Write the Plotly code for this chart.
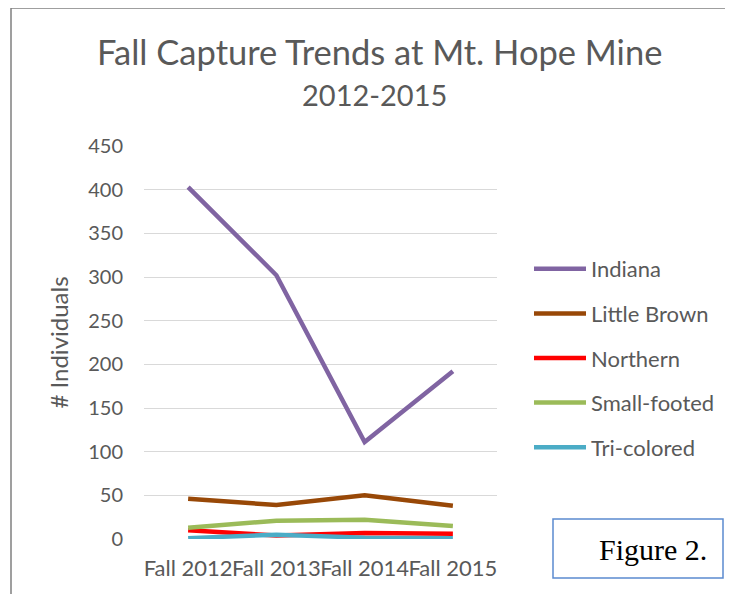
import plotly.graph_objects as go

categories = ["Fall 2012", "Fall 2013", "Fall 2014", "Fall 2015"]
series_names = ["Indiana", "Little Brown", "Northern", "Small-footed", "Tri-colored"]
indiana = [403, 302, 111, 192]
little_brown = [46, 39, 50, 38]
northern = [10, 4, 7, 6]
small_footed = [13, 21, 22, 15]
tri_colored = [1, 5, 1.5, 1]
colors = ["#8064A2", "#984807", "#FF0000", "#9BBB59", "#4BACC6"]
y_ticks = [0, 50, 100, 150, 200, 250, 300, 350, 400, 450]

W, H = 733, 594
OFF = 8  # page body margin
L, R, T, B = 144 - OFF, 497 - OFF, 146 - OFF, 539 - OFF

FONT = "Lato"
GRAY = "#595959"


def px_x(px):
    return (px - OFF - L) / (R - L)


def px_y(py):
    return (B - (py - OFF)) / (B - T)


fig = go.Figure()
for name, vals, col in zip(series_names,
                           [indiana, little_brown, northern, small_footed, tri_colored],
                           colors):
    fig.add_trace(go.Scatter(x=categories, y=vals, name=name, mode="lines",
                             line=dict(color=col, width=4.5), legendgroup=name))

fig.update_layout(
    width=W, height=H,
    margin=dict(l=L, r=W - R, t=T, b=H - B, pad=0, autoexpand=False),
    paper_bgcolor="white", plot_bgcolor="white",
    font=dict(family=FONT, color=GRAY),
    showlegend=True,
    legend=dict(x=px_x(529), xanchor="left", y=px_y(248), yanchor="top",
                font=dict(size=22, color=GRAY), tracegroupgap=13,
                itemwidth=52, bgcolor="rgba(0,0,0,0)"),
    xaxis=dict(type="category", range=[-0.5, 3.5], showgrid=False, zeroline=False,
               showline=False, ticks="", tickangle=0, automargin=False,
               ticklabelstandoff=14, tickfont=dict(size=22, color=GRAY)),
    yaxis=dict(range=[0, 450], tickvals=y_ticks, showgrid=True, gridcolor="#D9D9D9",
               gridwidth=1.2, zeroline=False, showline=False, ticks="", automargin=False,
               tickfont=dict(size=20, color=GRAY), ticklabelstandoff=20,
               title=dict(text="# Individuals", font=dict(size=24, color=GRAY), standoff=12)),
)

fig.add_annotation(text="Fall Capture Trends at Mt. Hope Mine", xref="paper", yref="paper",
                   x=px_x(379), y=px_y(52), xanchor="center",
                   yanchor="middle", showarrow=False, font=dict(size=34.5, color=GRAY, family=FONT))
fig.add_annotation(text="2012-2015", xref="paper", yref="paper",
                   x=px_x(374), y=px_y(95), xanchor="center",
                   yanchor="middle", showarrow=False, font=dict(size=29, color=GRAY, family=FONT))

# outer chart border (left and top visible)
fig.add_shape(type="line", xref="paper", yref="paper", x0=px_x(11), x1=px_x(760),
              y0=px_y(8), y1=px_y(8), line=dict(color="#7F7F7F", width=1.5))
fig.add_shape(type="line", xref="paper", yref="paper", x0=px_x(11), x1=px_x(11),
              y0=px_y(8), y1=px_y(620), line=dict(color="#7F7F7F", width=1.5))

# Figure 2 box
fig.add_shape(type="rect", xref="paper", yref="paper", x0=px_x(553), x1=px_x(723),
              y0=px_y(578), y1=px_y(519), line=dict(color="#5B8BD0", width=1.5),
              fillcolor="white")
fig.add_annotation(text="Figure 2.", xref="paper", yref="paper", x=px_x(597), y=px_y(549),
                   xanchor="left", yanchor="middle", showarrow=False,
                   font=dict(size=30, color="black", family="Liberation Serif"))

fig.write_html("out.html")
